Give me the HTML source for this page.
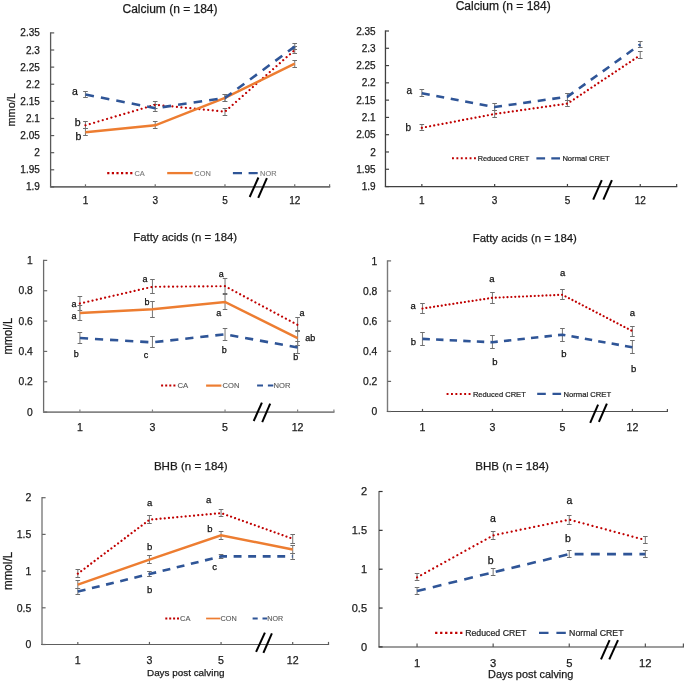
<!DOCTYPE html>
<html><head><meta charset="utf-8"><style>
html,body{margin:0;padding:0;background:#fff;}
svg{display:block;font-family:"Liberation Sans", sans-serif;will-change:transform;}
</style></head><body>
<svg width="685" height="683" viewBox="0 0 685 683">

<text x="170.00" y="12.50" font-size="12" text-anchor="middle" fill="#1a1a1a" stroke="#1a1a1a" stroke-width="0.25" >Calcium (n = 184)</text>
<line x1="50.6" y1="32.3" x2="50.6" y2="186.9" stroke="#595959" stroke-width="1.3"/>
<line x1="49.95" y1="186.9" x2="330.20000000000005" y2="186.9" stroke="#6c6c6c" stroke-width="1.9"/>
<line x1="50.6" y1="186.90" x2="54.20" y2="186.90" stroke="#595959" stroke-width="1.2"/>
<text x="39.80" y="190.47" font-size="10" text-anchor="end" fill="#1a1a1a" stroke="#1a1a1a" stroke-width="0.25" >1.9</text>
<line x1="50.6" y1="169.79" x2="54.20" y2="169.79" stroke="#595959" stroke-width="1.2"/>
<text x="39.80" y="173.36" font-size="10" text-anchor="end" fill="#1a1a1a" stroke="#1a1a1a" stroke-width="0.25" >1.95</text>
<line x1="50.6" y1="152.68" x2="54.20" y2="152.68" stroke="#595959" stroke-width="1.2"/>
<text x="39.80" y="156.25" font-size="10" text-anchor="end" fill="#1a1a1a" stroke="#1a1a1a" stroke-width="0.25" >2</text>
<line x1="50.6" y1="135.57" x2="54.20" y2="135.57" stroke="#595959" stroke-width="1.2"/>
<text x="39.80" y="139.14" font-size="10" text-anchor="end" fill="#1a1a1a" stroke="#1a1a1a" stroke-width="0.25" >2.05</text>
<line x1="50.6" y1="118.46" x2="54.20" y2="118.46" stroke="#595959" stroke-width="1.2"/>
<text x="39.80" y="122.03" font-size="10" text-anchor="end" fill="#1a1a1a" stroke="#1a1a1a" stroke-width="0.25" >2.1</text>
<line x1="50.6" y1="101.34" x2="54.20" y2="101.34" stroke="#595959" stroke-width="1.2"/>
<text x="39.80" y="104.91" font-size="10" text-anchor="end" fill="#1a1a1a" stroke="#1a1a1a" stroke-width="0.25" >2.15</text>
<line x1="50.6" y1="84.23" x2="54.20" y2="84.23" stroke="#595959" stroke-width="1.2"/>
<text x="39.80" y="87.80" font-size="10" text-anchor="end" fill="#1a1a1a" stroke="#1a1a1a" stroke-width="0.25" >2.2</text>
<line x1="50.6" y1="67.12" x2="54.20" y2="67.12" stroke="#595959" stroke-width="1.2"/>
<text x="39.80" y="70.69" font-size="10" text-anchor="end" fill="#1a1a1a" stroke="#1a1a1a" stroke-width="0.25" >2.25</text>
<line x1="50.6" y1="50.01" x2="54.20" y2="50.01" stroke="#595959" stroke-width="1.2"/>
<text x="39.80" y="53.58" font-size="10" text-anchor="end" fill="#1a1a1a" stroke="#1a1a1a" stroke-width="0.25" >2.3</text>
<line x1="50.6" y1="32.90" x2="54.20" y2="32.90" stroke="#595959" stroke-width="1.2"/>
<text x="39.80" y="36.47" font-size="10" text-anchor="end" fill="#1a1a1a" stroke="#1a1a1a" stroke-width="0.25" >2.35</text>
<line x1="85.47" y1="186.9" x2="85.47" y2="184.3" stroke="#6c6c6c" stroke-width="1.2"/>
<line x1="155.22" y1="186.9" x2="155.22" y2="184.3" stroke="#6c6c6c" stroke-width="1.2"/>
<line x1="224.97" y1="186.9" x2="224.97" y2="184.3" stroke="#6c6c6c" stroke-width="1.2"/>
<line x1="294.73" y1="186.9" x2="294.73" y2="184.3" stroke="#6c6c6c" stroke-width="1.2"/>
<line x1="329.60" y1="186.9" x2="329.60" y2="184.3" stroke="#6c6c6c" stroke-width="1.2"/>
<text x="85.47" y="204.00" font-size="10" text-anchor="middle" fill="#1a1a1a" stroke="#1a1a1a" stroke-width="0.25" >1</text>
<text x="155.22" y="204.00" font-size="10" text-anchor="middle" fill="#1a1a1a" stroke="#1a1a1a" stroke-width="0.25" >3</text>
<text x="224.97" y="204.00" font-size="10" text-anchor="middle" fill="#1a1a1a" stroke="#1a1a1a" stroke-width="0.25" >5</text>
<text x="294.73" y="204.00" font-size="10" text-anchor="middle" fill="#1a1a1a" stroke="#1a1a1a" stroke-width="0.25" >12</text>
<text x="0" y="0" font-size="11.5" text-anchor="middle" textLength="33.2" lengthAdjust="spacingAndGlyphs" fill="#1a1a1a" stroke="#1a1a1a" stroke-width="0.25" transform="translate(15.0,109.85) rotate(-90)">mmo/L</text>
<path d="M85.47 121.50V128.50" stroke="#808080" stroke-width="1.1" fill="none"/>
<path d="M83.17 121.50H87.77M83.17 128.50H87.77" stroke="#6e6e6e" stroke-width="1" fill="none"/>
<path d="M155.22 101.50V108.50" stroke="#808080" stroke-width="1.1" fill="none"/>
<path d="M152.92 101.50H157.53M152.92 108.50H157.53" stroke="#6e6e6e" stroke-width="1" fill="none"/>
<path d="M224.97 108.50V115.50" stroke="#808080" stroke-width="1.1" fill="none"/>
<path d="M222.67 108.50H227.28M222.67 115.50H227.28" stroke="#6e6e6e" stroke-width="1" fill="none"/>
<path d="M294.73 46.50V53.50" stroke="#808080" stroke-width="1.1" fill="none"/>
<path d="M292.43 46.50H297.03M292.43 53.50H297.03" stroke="#6e6e6e" stroke-width="1" fill="none"/>
<path d="M85.47 128.50V135.50" stroke="#808080" stroke-width="1.1" fill="none"/>
<path d="M83.17 128.50H87.77M83.17 135.50H87.77" stroke="#6e6e6e" stroke-width="1" fill="none"/>
<path d="M155.22 121.50V128.50" stroke="#808080" stroke-width="1.1" fill="none"/>
<path d="M152.92 121.50H157.53M152.92 128.50H157.53" stroke="#6e6e6e" stroke-width="1" fill="none"/>
<path d="M224.97 94.50V101.50" stroke="#808080" stroke-width="1.1" fill="none"/>
<path d="M222.67 94.50H227.28M222.67 101.50H227.28" stroke="#6e6e6e" stroke-width="1" fill="none"/>
<path d="M294.73 60.50V67.50" stroke="#808080" stroke-width="1.1" fill="none"/>
<path d="M292.43 60.50H297.03M292.43 67.50H297.03" stroke="#6e6e6e" stroke-width="1" fill="none"/>
<path d="M85.47 91.50V97.50" stroke="#808080" stroke-width="1.1" fill="none"/>
<path d="M83.17 91.50H87.77M83.17 97.50H87.77" stroke="#6e6e6e" stroke-width="1" fill="none"/>
<path d="M155.22 104.50V111.50" stroke="#808080" stroke-width="1.1" fill="none"/>
<path d="M152.92 104.50H157.53M152.92 111.50H157.53" stroke="#6e6e6e" stroke-width="1" fill="none"/>
<path d="M224.97 94.50V101.50" stroke="#808080" stroke-width="1.1" fill="none"/>
<path d="M222.67 94.50H227.28M222.67 101.50H227.28" stroke="#6e6e6e" stroke-width="1" fill="none"/>
<path d="M294.73 43.50V49.50" stroke="#808080" stroke-width="1.1" fill="none"/>
<path d="M292.43 43.50H297.03M292.43 49.50H297.03" stroke="#6e6e6e" stroke-width="1" fill="none"/>
<polyline points="85.47,125.30 155.22,104.77 224.97,111.61 294.73,50.01" fill="none" stroke="#C00000" stroke-width="2.2" stroke-linecap="round" stroke-dasharray="0.01 4.49"/>
<polyline points="85.47,132.14 155.22,125.30 224.97,97.92 294.73,63.70" fill="none" stroke="#ED7D31" stroke-width="2.5"/>
<polyline points="85.47,94.50 155.22,108.19 224.97,97.92 294.73,46.59" fill="none" stroke="#2F5597" stroke-width="2.6" stroke-dasharray="8.6 7.1"/>
<text x="75.00" y="94.80" font-size="10.5" text-anchor="middle" fill="#111" stroke="#111" stroke-width="0.25" >a</text>
<text x="77.70" y="125.80" font-size="10.5" text-anchor="middle" fill="#111" stroke="#111" stroke-width="0.25" >b</text>
<text x="78.40" y="139.70" font-size="10.5" text-anchor="middle" fill="#111" stroke="#111" stroke-width="0.25" >b</text>
<line x1="107.2" y1="173.1" x2="132.4" y2="173.1" stroke="#C00000" stroke-width="2.2" stroke-dasharray="2.2 2.4"/>
<text x="134.40" y="175.74" font-size="7.4" text-anchor="start" fill="#7a7a7a" stroke="#7a7a7a" stroke-width="0.12" >CA</text>
<line x1="167.2" y1="173.1" x2="192.7" y2="173.1" stroke="#ED7D31" stroke-width="2.3"/>
<text x="194.30" y="175.74" font-size="7.4" text-anchor="start" fill="#7a7a7a" stroke="#7a7a7a" stroke-width="0.12" >CON</text>
<line x1="232.9" y1="173.1" x2="257.8" y2="173.1" stroke="#2F5597" stroke-width="2.2" stroke-dasharray="9.1 6.6"/>
<text x="260.10" y="175.74" font-size="7.4" text-anchor="start" fill="#7a7a7a" stroke="#7a7a7a" stroke-width="0.12" >NOR</text>
<line x1="249.7" y1="197" x2="258.4" y2="177.5" stroke="#000" stroke-width="2"/>
<line x1="258.2" y1="197.9" x2="266.9" y2="178.2" stroke="#000" stroke-width="2"/>
<text x="503.20" y="10.00" font-size="12" text-anchor="middle" fill="#1a1a1a" stroke="#1a1a1a" stroke-width="0.25" >Calcium (n = 184)</text>
<line x1="385.45" y1="30.4" x2="385.45" y2="186.55" stroke="#404040" stroke-width="1.3"/>
<line x1="384.8" y1="186.55" x2="677.25" y2="186.55" stroke="#404040" stroke-width="1.3"/>
<line x1="385.45" y1="186.55" x2="389.05" y2="186.55" stroke="#404040" stroke-width="1.2"/>
<text x="375.70" y="190.12" font-size="10" text-anchor="end" fill="#1a1a1a" stroke="#1a1a1a" stroke-width="0.25" >1.9</text>
<line x1="385.45" y1="169.27" x2="389.05" y2="169.27" stroke="#404040" stroke-width="1.2"/>
<text x="375.70" y="172.84" font-size="10" text-anchor="end" fill="#1a1a1a" stroke="#1a1a1a" stroke-width="0.25" >1.95</text>
<line x1="385.45" y1="151.98" x2="389.05" y2="151.98" stroke="#404040" stroke-width="1.2"/>
<text x="375.70" y="155.55" font-size="10" text-anchor="end" fill="#1a1a1a" stroke="#1a1a1a" stroke-width="0.25" >2</text>
<line x1="385.45" y1="134.70" x2="389.05" y2="134.70" stroke="#404040" stroke-width="1.2"/>
<text x="375.70" y="138.27" font-size="10" text-anchor="end" fill="#1a1a1a" stroke="#1a1a1a" stroke-width="0.25" >2.05</text>
<line x1="385.45" y1="117.42" x2="389.05" y2="117.42" stroke="#404040" stroke-width="1.2"/>
<text x="375.70" y="120.99" font-size="10" text-anchor="end" fill="#1a1a1a" stroke="#1a1a1a" stroke-width="0.25" >2.1</text>
<line x1="385.45" y1="100.13" x2="389.05" y2="100.13" stroke="#404040" stroke-width="1.2"/>
<text x="375.70" y="103.70" font-size="10" text-anchor="end" fill="#1a1a1a" stroke="#1a1a1a" stroke-width="0.25" >2.15</text>
<line x1="385.45" y1="82.85" x2="389.05" y2="82.85" stroke="#404040" stroke-width="1.2"/>
<text x="375.70" y="86.42" font-size="10" text-anchor="end" fill="#1a1a1a" stroke="#1a1a1a" stroke-width="0.25" >2.2</text>
<line x1="385.45" y1="65.57" x2="389.05" y2="65.57" stroke="#404040" stroke-width="1.2"/>
<text x="375.70" y="69.14" font-size="10" text-anchor="end" fill="#1a1a1a" stroke="#1a1a1a" stroke-width="0.25" >2.25</text>
<line x1="385.45" y1="48.28" x2="389.05" y2="48.28" stroke="#404040" stroke-width="1.2"/>
<text x="375.70" y="51.85" font-size="10" text-anchor="end" fill="#1a1a1a" stroke="#1a1a1a" stroke-width="0.25" >2.3</text>
<line x1="385.45" y1="31.00" x2="389.05" y2="31.00" stroke="#404040" stroke-width="1.2"/>
<text x="375.70" y="34.57" font-size="10" text-anchor="end" fill="#1a1a1a" stroke="#1a1a1a" stroke-width="0.25" >2.35</text>
<line x1="421.85" y1="186.55" x2="421.85" y2="183.95000000000002" stroke="#404040" stroke-width="1.2"/>
<line x1="494.65" y1="186.55" x2="494.65" y2="183.95000000000002" stroke="#404040" stroke-width="1.2"/>
<line x1="567.45" y1="186.55" x2="567.45" y2="183.95000000000002" stroke="#404040" stroke-width="1.2"/>
<line x1="640.25" y1="186.55" x2="640.25" y2="183.95000000000002" stroke="#404040" stroke-width="1.2"/>
<line x1="676.65" y1="186.55" x2="676.65" y2="183.95000000000002" stroke="#404040" stroke-width="1.2"/>
<text x="421.85" y="203.90" font-size="10" text-anchor="middle" fill="#1a1a1a" stroke="#1a1a1a" stroke-width="0.25" >1</text>
<text x="494.65" y="203.90" font-size="10" text-anchor="middle" fill="#1a1a1a" stroke="#1a1a1a" stroke-width="0.25" >3</text>
<text x="567.45" y="203.90" font-size="10" text-anchor="middle" fill="#1a1a1a" stroke="#1a1a1a" stroke-width="0.25" >5</text>
<text x="640.25" y="203.90" font-size="10" text-anchor="middle" fill="#1a1a1a" stroke="#1a1a1a" stroke-width="0.25" >12</text>
<path d="M421.85 124.50V130.50" stroke="#808080" stroke-width="1.1" fill="none"/>
<path d="M419.55 124.50H424.15M419.55 130.50H424.15" stroke="#6e6e6e" stroke-width="1" fill="none"/>
<path d="M494.65 110.50V117.50" stroke="#808080" stroke-width="1.1" fill="none"/>
<path d="M492.35 110.50H496.95M492.35 117.50H496.95" stroke="#6e6e6e" stroke-width="1" fill="none"/>
<path d="M567.45 100.50V106.50" stroke="#808080" stroke-width="1.1" fill="none"/>
<path d="M565.15 100.50H569.75M565.15 106.50H569.75" stroke="#6e6e6e" stroke-width="1" fill="none"/>
<path d="M640.25 51.50V58.50" stroke="#808080" stroke-width="1.1" fill="none"/>
<path d="M637.95 51.50H642.55M637.95 58.50H642.55" stroke="#6e6e6e" stroke-width="1" fill="none"/>
<path d="M421.85 89.50V96.50" stroke="#808080" stroke-width="1.1" fill="none"/>
<path d="M419.55 89.50H424.15M419.55 96.50H424.15" stroke="#6e6e6e" stroke-width="1" fill="none"/>
<path d="M494.65 103.50V110.50" stroke="#808080" stroke-width="1.1" fill="none"/>
<path d="M492.35 103.50H496.95M492.35 110.50H496.95" stroke="#6e6e6e" stroke-width="1" fill="none"/>
<path d="M567.45 93.50V100.50" stroke="#808080" stroke-width="1.1" fill="none"/>
<path d="M565.15 93.50H569.75M565.15 100.50H569.75" stroke="#6e6e6e" stroke-width="1" fill="none"/>
<path d="M640.25 41.50V47.50" stroke="#808080" stroke-width="1.1" fill="none"/>
<path d="M637.95 41.50H642.55M637.95 47.50H642.55" stroke="#6e6e6e" stroke-width="1" fill="none"/>
<polyline points="421.85,127.79 494.65,113.96 567.45,103.59 640.25,55.20" fill="none" stroke="#C00000" stroke-width="2.2" stroke-linecap="round" stroke-dasharray="0.01 4.19"/>
<polyline points="421.85,93.22 494.65,107.05 567.45,96.68 640.25,44.48" fill="none" stroke="#2F5597" stroke-width="2.6" stroke-dasharray="8.0 6.7"/>
<text x="409.20" y="93.50" font-size="10" text-anchor="middle" fill="#111" stroke="#111" stroke-width="0.25" >a</text>
<text x="408.30" y="130.90" font-size="10" text-anchor="middle" fill="#111" stroke="#111" stroke-width="0.25" >b</text>
<line x1="452" y1="158.3" x2="475.9" y2="158.3" stroke="#C00000" stroke-width="2.0" stroke-dasharray="1.9 2.5"/>
<text x="477.70" y="160.92" font-size="7.35" text-anchor="start" fill="#262626" stroke="#262626" stroke-width="0.22" >Reduced CRET</text>
<line x1="536.4" y1="158.3" x2="560.1" y2="158.3" stroke="#2F5597" stroke-width="2.2" stroke-dasharray="8.7 6.2"/>
<text x="562.40" y="161.01" font-size="7.6" text-anchor="start" fill="#262626" stroke="#262626" stroke-width="0.22" >Normal CRET</text>
<line x1="593.2" y1="199.6" x2="601.8" y2="180.2" stroke="#000" stroke-width="2"/>
<line x1="603.4" y1="199.6" x2="611.9" y2="180.2" stroke="#000" stroke-width="2"/>
<text x="185.20" y="240.60" font-size="11.35" text-anchor="middle" fill="#1a1a1a" stroke="#1a1a1a" stroke-width="0.25" >Fatty acids (n = 184)</text>
<line x1="43.6" y1="259.79999999999995" x2="43.6" y2="412.1" stroke="#6b6b6b" stroke-width="1.3"/>
<line x1="42.95" y1="412.1" x2="334.5" y2="412.1" stroke="#858585" stroke-width="1.7"/>
<line x1="43.6" y1="412.10" x2="47.20" y2="412.10" stroke="#6b6b6b" stroke-width="1.2"/>
<text x="32.80" y="415.78" font-size="10.3" text-anchor="end" fill="#1a1a1a" stroke="#1a1a1a" stroke-width="0.25" >0</text>
<line x1="43.6" y1="381.76" x2="47.20" y2="381.76" stroke="#6b6b6b" stroke-width="1.2"/>
<text x="32.80" y="385.44" font-size="10.3" text-anchor="end" fill="#1a1a1a" stroke="#1a1a1a" stroke-width="0.25" >0.2</text>
<line x1="43.6" y1="351.42" x2="47.20" y2="351.42" stroke="#6b6b6b" stroke-width="1.2"/>
<text x="32.80" y="355.10" font-size="10.3" text-anchor="end" fill="#1a1a1a" stroke="#1a1a1a" stroke-width="0.25" >0.4</text>
<line x1="43.6" y1="321.08" x2="47.20" y2="321.08" stroke="#6b6b6b" stroke-width="1.2"/>
<text x="32.80" y="324.76" font-size="10.3" text-anchor="end" fill="#1a1a1a" stroke="#1a1a1a" stroke-width="0.25" >0.6</text>
<line x1="43.6" y1="290.74" x2="47.20" y2="290.74" stroke="#6b6b6b" stroke-width="1.2"/>
<text x="32.80" y="294.42" font-size="10.3" text-anchor="end" fill="#1a1a1a" stroke="#1a1a1a" stroke-width="0.25" >0.8</text>
<line x1="43.6" y1="260.40" x2="47.20" y2="260.40" stroke="#6b6b6b" stroke-width="1.2"/>
<text x="32.80" y="264.08" font-size="10.3" text-anchor="end" fill="#1a1a1a" stroke="#1a1a1a" stroke-width="0.25" >1</text>
<line x1="79.89" y1="412.1" x2="79.89" y2="409.5" stroke="#858585" stroke-width="1.2"/>
<line x1="152.46" y1="412.1" x2="152.46" y2="409.5" stroke="#858585" stroke-width="1.2"/>
<line x1="225.04" y1="412.1" x2="225.04" y2="409.5" stroke="#858585" stroke-width="1.2"/>
<line x1="297.61" y1="412.1" x2="297.61" y2="409.5" stroke="#858585" stroke-width="1.2"/>
<line x1="333.90" y1="412.1" x2="333.90" y2="409.5" stroke="#858585" stroke-width="1.2"/>
<text x="79.89" y="431.00" font-size="10.6" text-anchor="middle" fill="#1a1a1a" stroke="#1a1a1a" stroke-width="0.25" >1</text>
<text x="152.46" y="431.00" font-size="10.6" text-anchor="middle" fill="#1a1a1a" stroke="#1a1a1a" stroke-width="0.25" >3</text>
<text x="225.04" y="431.00" font-size="10.6" text-anchor="middle" fill="#1a1a1a" stroke="#1a1a1a" stroke-width="0.25" >5</text>
<text x="297.61" y="431.00" font-size="10.6" text-anchor="middle" fill="#1a1a1a" stroke="#1a1a1a" stroke-width="0.25" >12</text>
<text x="0" y="0" font-size="12.3" text-anchor="middle" textLength="36.8" lengthAdjust="spacingAndGlyphs" fill="#1a1a1a" stroke="#1a1a1a" stroke-width="0.25" transform="translate(12.3,336.2) rotate(-90)">mmol/L</text>
<path d="M79.89 296.50V310.50" stroke="#808080" stroke-width="1.1" fill="none"/>
<path d="M77.59 296.50H82.19M77.59 310.50H82.19" stroke="#6e6e6e" stroke-width="1" fill="none"/>
<path d="M152.46 279.50V293.50" stroke="#808080" stroke-width="1.1" fill="none"/>
<path d="M150.16 279.50H154.76M150.16 293.50H154.76" stroke="#6e6e6e" stroke-width="1" fill="none"/>
<path d="M225.04 278.50V293.50" stroke="#808080" stroke-width="1.1" fill="none"/>
<path d="M222.74 278.50H227.34M222.74 293.50H227.34" stroke="#6e6e6e" stroke-width="1" fill="none"/>
<path d="M297.61 317.50V331.50" stroke="#808080" stroke-width="1.1" fill="none"/>
<path d="M295.31 317.50H299.91M295.31 331.50H299.91" stroke="#6e6e6e" stroke-width="1" fill="none"/>
<path d="M79.89 305.50V320.50" stroke="#808080" stroke-width="1.1" fill="none"/>
<path d="M77.59 305.50H82.19M77.59 320.50H82.19" stroke="#6e6e6e" stroke-width="1" fill="none"/>
<path d="M152.46 301.50V317.50" stroke="#808080" stroke-width="1.1" fill="none"/>
<path d="M150.16 301.50H154.76M150.16 317.50H154.76" stroke="#6e6e6e" stroke-width="1" fill="none"/>
<path d="M225.04 294.50V309.50" stroke="#808080" stroke-width="1.1" fill="none"/>
<path d="M222.74 294.50H227.34M222.74 309.50H227.34" stroke="#6e6e6e" stroke-width="1" fill="none"/>
<path d="M297.61 330.50V345.50" stroke="#808080" stroke-width="1.1" fill="none"/>
<path d="M295.31 330.50H299.91M295.31 345.50H299.91" stroke="#6e6e6e" stroke-width="1" fill="none"/>
<path d="M79.89 332.50V343.50" stroke="#808080" stroke-width="1.1" fill="none"/>
<path d="M77.59 332.50H82.19M77.59 343.50H82.19" stroke="#6e6e6e" stroke-width="1" fill="none"/>
<path d="M152.46 336.50V347.50" stroke="#808080" stroke-width="1.1" fill="none"/>
<path d="M150.16 336.50H154.76M150.16 347.50H154.76" stroke="#6e6e6e" stroke-width="1" fill="none"/>
<path d="M225.04 328.50V340.50" stroke="#808080" stroke-width="1.1" fill="none"/>
<path d="M222.74 328.50H227.34M222.74 340.50H227.34" stroke="#6e6e6e" stroke-width="1" fill="none"/>
<path d="M297.61 341.50V353.50" stroke="#808080" stroke-width="1.1" fill="none"/>
<path d="M295.31 341.50H299.91M295.31 353.50H299.91" stroke="#6e6e6e" stroke-width="1" fill="none"/>
<polyline points="79.89,303.48 152.46,286.80 225.04,286.19 297.61,324.87" fill="none" stroke="#C00000" stroke-width="2.2" stroke-linecap="round" stroke-dasharray="0.01 4.31"/>
<polyline points="79.89,313.04 152.46,309.25 225.04,301.97 297.61,338.07" fill="none" stroke="#ED7D31" stroke-width="2.5"/>
<polyline points="79.89,338.07 152.46,342.32 225.04,334.28 297.61,347.48" fill="none" stroke="#2F5597" stroke-width="2.6" stroke-dasharray="8.2 6.9"/>
<text x="74.00" y="306.60" font-size="9" text-anchor="middle" fill="#111" stroke="#111" stroke-width="0.25" >a</text>
<text x="74.00" y="318.50" font-size="9" text-anchor="middle" fill="#111" stroke="#111" stroke-width="0.25" >a</text>
<text x="76.20" y="356.50" font-size="9" text-anchor="middle" fill="#111" stroke="#111" stroke-width="0.25" >b</text>
<text x="145.10" y="281.50" font-size="9" text-anchor="middle" fill="#111" stroke="#111" stroke-width="0.25" >a</text>
<text x="147.10" y="304.60" font-size="9" text-anchor="middle" fill="#111" stroke="#111" stroke-width="0.25" >b</text>
<text x="146.00" y="357.70" font-size="9" text-anchor="middle" fill="#111" stroke="#111" stroke-width="0.25" >c</text>
<text x="221.30" y="276.60" font-size="9" text-anchor="middle" fill="#111" stroke="#111" stroke-width="0.25" >a</text>
<text x="218.80" y="315.80" font-size="9" text-anchor="middle" fill="#111" stroke="#111" stroke-width="0.25" >a</text>
<text x="224.30" y="352.60" font-size="9" text-anchor="middle" fill="#111" stroke="#111" stroke-width="0.25" >b</text>
<text x="302.00" y="316.20" font-size="9" text-anchor="middle" fill="#111" stroke="#111" stroke-width="0.25" >a</text>
<text x="310.30" y="340.80" font-size="9" text-anchor="middle" fill="#111" stroke="#111" stroke-width="0.25" >ab</text>
<text x="295.80" y="360.40" font-size="9" text-anchor="middle" fill="#111" stroke="#111" stroke-width="0.25" >b</text>
<line x1="161.1" y1="385.6" x2="175.4" y2="385.6" stroke="#C00000" stroke-width="2.0" stroke-dasharray="2 2.1"/>
<text x="177.40" y="388.38" font-size="7.8" text-anchor="start" fill="#595959" stroke="#595959" stroke-width="0.12" >CA</text>
<line x1="206.1" y1="385.6" x2="221.4" y2="385.6" stroke="#ED7D31" stroke-width="2.2"/>
<text x="222.50" y="388.31" font-size="7.6" text-anchor="start" fill="#595959" stroke="#595959" stroke-width="0.12" >CON</text>
<line x1="257.1" y1="385.6" x2="273.3" y2="385.6" stroke="#2F5597" stroke-width="2.0" stroke-dasharray="5.9 4.9"/>
<text x="273.60" y="388.31" font-size="7.6" text-anchor="start" fill="#595959" stroke="#595959" stroke-width="0.12" >NOR</text>
<line x1="253.7" y1="421" x2="261.9" y2="402.6" stroke="#000" stroke-width="2"/>
<line x1="262.2" y1="422.1" x2="270.2" y2="403.7" stroke="#000" stroke-width="2"/>
<text x="524.80" y="241.70" font-size="11.4" text-anchor="middle" fill="#1a1a1a" stroke="#1a1a1a" stroke-width="0.25" >Fatty acids (n = 184)</text>
<line x1="387.5" y1="260.29999999999995" x2="387.5" y2="411.5" stroke="#7a7a7a" stroke-width="1.4"/>
<line x1="386.8" y1="411.5" x2="668.0" y2="411.5" stroke="#505050" stroke-width="1.2"/>
<line x1="387.5" y1="411.50" x2="391.10" y2="411.50" stroke="#666" stroke-width="1.2"/>
<text x="377.30" y="415.18" font-size="10.3" text-anchor="end" fill="#1a1a1a" stroke="#1a1a1a" stroke-width="0.25" >0</text>
<line x1="387.5" y1="381.38" x2="391.10" y2="381.38" stroke="#666" stroke-width="1.2"/>
<text x="377.30" y="385.06" font-size="10.3" text-anchor="end" fill="#1a1a1a" stroke="#1a1a1a" stroke-width="0.25" >0.2</text>
<line x1="387.5" y1="351.26" x2="391.10" y2="351.26" stroke="#666" stroke-width="1.2"/>
<text x="377.30" y="354.94" font-size="10.3" text-anchor="end" fill="#1a1a1a" stroke="#1a1a1a" stroke-width="0.25" >0.4</text>
<line x1="387.5" y1="321.14" x2="391.10" y2="321.14" stroke="#666" stroke-width="1.2"/>
<text x="377.30" y="324.82" font-size="10.3" text-anchor="end" fill="#1a1a1a" stroke="#1a1a1a" stroke-width="0.25" >0.6</text>
<line x1="387.5" y1="291.02" x2="391.10" y2="291.02" stroke="#666" stroke-width="1.2"/>
<text x="377.30" y="294.70" font-size="10.3" text-anchor="end" fill="#1a1a1a" stroke="#1a1a1a" stroke-width="0.25" >0.8</text>
<line x1="387.5" y1="260.90" x2="391.10" y2="260.90" stroke="#666" stroke-width="1.2"/>
<text x="377.30" y="264.58" font-size="10.3" text-anchor="end" fill="#1a1a1a" stroke="#1a1a1a" stroke-width="0.25" >1</text>
<line x1="422.49" y1="411.5" x2="422.49" y2="408.9" stroke="#505050" stroke-width="1.2"/>
<line x1="492.46" y1="411.5" x2="492.46" y2="408.9" stroke="#505050" stroke-width="1.2"/>
<line x1="562.44" y1="411.5" x2="562.44" y2="408.9" stroke="#505050" stroke-width="1.2"/>
<line x1="632.41" y1="411.5" x2="632.41" y2="408.9" stroke="#505050" stroke-width="1.2"/>
<line x1="667.40" y1="411.5" x2="667.40" y2="408.9" stroke="#505050" stroke-width="1.2"/>
<text x="422.49" y="431.00" font-size="10.6" text-anchor="middle" fill="#1a1a1a" stroke="#1a1a1a" stroke-width="0.25" >1</text>
<text x="492.46" y="431.00" font-size="10.6" text-anchor="middle" fill="#1a1a1a" stroke="#1a1a1a" stroke-width="0.25" >3</text>
<text x="562.44" y="431.00" font-size="10.6" text-anchor="middle" fill="#1a1a1a" stroke="#1a1a1a" stroke-width="0.25" >5</text>
<text x="632.41" y="431.00" font-size="10.6" text-anchor="middle" fill="#1a1a1a" stroke="#1a1a1a" stroke-width="0.25" >12</text>
<path d="M422.49 303.50V313.50" stroke="#808080" stroke-width="1.1" fill="none"/>
<path d="M420.19 303.50H424.79M420.19 313.50H424.79" stroke="#6e6e6e" stroke-width="1" fill="none"/>
<path d="M492.46 292.50V303.50" stroke="#808080" stroke-width="1.1" fill="none"/>
<path d="M490.16 292.50H494.76M490.16 303.50H494.76" stroke="#6e6e6e" stroke-width="1" fill="none"/>
<path d="M562.44 289.50V299.50" stroke="#808080" stroke-width="1.1" fill="none"/>
<path d="M560.14 289.50H564.74M560.14 299.50H564.74" stroke="#6e6e6e" stroke-width="1" fill="none"/>
<path d="M632.41 326.50V336.50" stroke="#808080" stroke-width="1.1" fill="none"/>
<path d="M630.11 326.50H634.71M630.11 336.50H634.71" stroke="#6e6e6e" stroke-width="1" fill="none"/>
<path d="M422.49 332.50V345.50" stroke="#808080" stroke-width="1.1" fill="none"/>
<path d="M420.19 332.50H424.79M420.19 345.50H424.79" stroke="#6e6e6e" stroke-width="1" fill="none"/>
<path d="M492.46 335.50V348.50" stroke="#808080" stroke-width="1.1" fill="none"/>
<path d="M490.16 335.50H494.76M490.16 348.50H494.76" stroke="#6e6e6e" stroke-width="1" fill="none"/>
<path d="M562.44 328.50V341.50" stroke="#808080" stroke-width="1.1" fill="none"/>
<path d="M560.14 328.50H564.74M560.14 341.50H564.74" stroke="#6e6e6e" stroke-width="1" fill="none"/>
<path d="M632.41 340.50V353.50" stroke="#808080" stroke-width="1.1" fill="none"/>
<path d="M630.11 340.50H634.71M630.11 353.50H634.71" stroke="#6e6e6e" stroke-width="1" fill="none"/>
<polyline points="422.49,308.49 492.46,297.80 562.44,294.78 632.41,331.08" fill="none" stroke="#C00000" stroke-width="2.2" stroke-linecap="round" stroke-dasharray="0.01 3.89"/>
<polyline points="422.49,338.91 492.46,342.22 562.44,334.69 632.41,347.34" fill="none" stroke="#2F5597" stroke-width="2.6" stroke-dasharray="7.4 6.2"/>
<text x="413.20" y="309.00" font-size="9.5" text-anchor="middle" fill="#111" stroke="#111" stroke-width="0.25" >a</text>
<text x="413.30" y="344.50" font-size="9.5" text-anchor="middle" fill="#111" stroke="#111" stroke-width="0.25" >b</text>
<text x="491.90" y="282.40" font-size="9.5" text-anchor="middle" fill="#111" stroke="#111" stroke-width="0.25" >a</text>
<text x="494.80" y="365.00" font-size="9.5" text-anchor="middle" fill="#111" stroke="#111" stroke-width="0.25" >b</text>
<text x="562.60" y="276.00" font-size="9.5" text-anchor="middle" fill="#111" stroke="#111" stroke-width="0.25" >a</text>
<text x="563.80" y="357.00" font-size="9.5" text-anchor="middle" fill="#111" stroke="#111" stroke-width="0.25" >b</text>
<text x="632.40" y="316.00" font-size="9.5" text-anchor="middle" fill="#111" stroke="#111" stroke-width="0.25" >a</text>
<text x="633.60" y="372.20" font-size="9.5" text-anchor="middle" fill="#111" stroke="#111" stroke-width="0.25" >b</text>
<line x1="446.6" y1="393.9" x2="470.5" y2="393.9" stroke="#C00000" stroke-width="2.0" stroke-dasharray="1.9 2.5"/>
<text x="472.90" y="396.60" font-size="7.55" text-anchor="start" fill="#262626" stroke="#262626" stroke-width="0.22" >Reduced CRET</text>
<line x1="537.2" y1="393.9" x2="561.1" y2="393.9" stroke="#2F5597" stroke-width="2.2" stroke-dasharray="8.6 6.7"/>
<text x="563.50" y="396.63" font-size="7.65" text-anchor="start" fill="#262626" stroke="#262626" stroke-width="0.22" >Normal CRET</text>
<line x1="590.2" y1="422.8" x2="598.1" y2="404.6" stroke="#000" stroke-width="2"/>
<line x1="598.9" y1="421.9" x2="606.9" y2="403.7" stroke="#000" stroke-width="2"/>
<text x="190.80" y="469.60" font-size="11.6" text-anchor="middle" fill="#1a1a1a" stroke="#1a1a1a" stroke-width="0.25" >BHB (n = 184)</text>
<line x1="42" y1="497.09999999999997" x2="42" y2="644.5" stroke="#999999" stroke-width="1.8"/>
<line x1="41.1" y1="644.5" x2="329.1" y2="644.5" stroke="#5e5e5e" stroke-width="1.2"/>
<line x1="42" y1="644.50" x2="45.60" y2="644.50" stroke="#666" stroke-width="1.2"/>
<text x="31.30" y="648.25" font-size="10.5" text-anchor="end" fill="#1a1a1a" stroke="#1a1a1a" stroke-width="0.25" >0</text>
<line x1="42" y1="607.80" x2="45.60" y2="607.80" stroke="#666" stroke-width="1.2"/>
<text x="31.30" y="611.55" font-size="10.5" text-anchor="end" fill="#1a1a1a" stroke="#1a1a1a" stroke-width="0.25" >0.5</text>
<line x1="42" y1="571.10" x2="45.60" y2="571.10" stroke="#666" stroke-width="1.2"/>
<text x="31.30" y="574.85" font-size="10.5" text-anchor="end" fill="#1a1a1a" stroke="#1a1a1a" stroke-width="0.25" >1</text>
<line x1="42" y1="534.40" x2="45.60" y2="534.40" stroke="#666" stroke-width="1.2"/>
<text x="31.30" y="538.15" font-size="10.5" text-anchor="end" fill="#1a1a1a" stroke="#1a1a1a" stroke-width="0.25" >1.5</text>
<line x1="42" y1="497.70" x2="45.60" y2="497.70" stroke="#666" stroke-width="1.2"/>
<text x="31.30" y="501.45" font-size="10.5" text-anchor="end" fill="#1a1a1a" stroke="#1a1a1a" stroke-width="0.25" >2</text>
<line x1="77.81" y1="644.5" x2="77.81" y2="641.9" stroke="#5e5e5e" stroke-width="1.2"/>
<line x1="149.44" y1="644.5" x2="149.44" y2="641.9" stroke="#5e5e5e" stroke-width="1.2"/>
<line x1="221.06" y1="644.5" x2="221.06" y2="641.9" stroke="#5e5e5e" stroke-width="1.2"/>
<line x1="292.69" y1="644.5" x2="292.69" y2="641.9" stroke="#5e5e5e" stroke-width="1.2"/>
<line x1="328.50" y1="644.5" x2="328.50" y2="641.9" stroke="#5e5e5e" stroke-width="1.2"/>
<text x="77.81" y="664.00" font-size="10.6" text-anchor="middle" fill="#1a1a1a" stroke="#1a1a1a" stroke-width="0.25" >1</text>
<text x="149.44" y="664.00" font-size="10.6" text-anchor="middle" fill="#1a1a1a" stroke="#1a1a1a" stroke-width="0.25" >3</text>
<text x="221.06" y="664.00" font-size="10.6" text-anchor="middle" fill="#1a1a1a" stroke="#1a1a1a" stroke-width="0.25" >5</text>
<text x="292.69" y="664.00" font-size="10.6" text-anchor="middle" fill="#1a1a1a" stroke="#1a1a1a" stroke-width="0.25" >12</text>
<text x="0" y="0" font-size="12" text-anchor="middle" textLength="38.2" lengthAdjust="spacingAndGlyphs" fill="#1a1a1a" stroke="#1a1a1a" stroke-width="0.25" transform="translate(12.2,570.95) rotate(-90)">mmol/L</text>
<text x="185.70" y="675.80" font-size="9.9" text-anchor="middle" fill="#1a1a1a" stroke="#1a1a1a" stroke-width="0.25" >Days post calving</text>
<path d="M77.81 569.50V577.50" stroke="#808080" stroke-width="1.1" fill="none"/>
<path d="M75.51 569.50H80.11M75.51 577.50H80.11" stroke="#6e6e6e" stroke-width="1" fill="none"/>
<path d="M149.44 515.50V523.50" stroke="#808080" stroke-width="1.1" fill="none"/>
<path d="M147.14 515.50H151.74M147.14 523.50H151.74" stroke="#6e6e6e" stroke-width="1" fill="none"/>
<path d="M221.06 509.50V516.50" stroke="#808080" stroke-width="1.1" fill="none"/>
<path d="M218.76 509.50H223.36M218.76 516.50H223.36" stroke="#6e6e6e" stroke-width="1" fill="none"/>
<path d="M292.69 534.50V543.50" stroke="#808080" stroke-width="1.1" fill="none"/>
<path d="M290.39 534.50H294.99M290.39 543.50H294.99" stroke="#6e6e6e" stroke-width="1" fill="none"/>
<path d="M77.81 580.50V588.50" stroke="#808080" stroke-width="1.1" fill="none"/>
<path d="M75.51 580.50H80.11M75.51 588.50H80.11" stroke="#6e6e6e" stroke-width="1" fill="none"/>
<path d="M149.44 555.50V563.50" stroke="#808080" stroke-width="1.1" fill="none"/>
<path d="M147.14 555.50H151.74M147.14 563.50H151.74" stroke="#6e6e6e" stroke-width="1" fill="none"/>
<path d="M221.06 531.50V539.50" stroke="#808080" stroke-width="1.1" fill="none"/>
<path d="M218.76 531.50H223.36M218.76 539.50H223.36" stroke="#6e6e6e" stroke-width="1" fill="none"/>
<path d="M292.69 545.50V553.50" stroke="#808080" stroke-width="1.1" fill="none"/>
<path d="M290.39 545.50H294.99M290.39 553.50H294.99" stroke="#6e6e6e" stroke-width="1" fill="none"/>
<path d="M77.81 588.50V594.50" stroke="#808080" stroke-width="1.1" fill="none"/>
<path d="M75.51 588.50H80.11M75.51 594.50H80.11" stroke="#6e6e6e" stroke-width="1" fill="none"/>
<path d="M149.44 571.50V576.50" stroke="#808080" stroke-width="1.1" fill="none"/>
<path d="M147.14 571.50H151.74M147.14 576.50H151.74" stroke="#6e6e6e" stroke-width="1" fill="none"/>
<path d="M221.06 554.50V558.50" stroke="#808080" stroke-width="1.1" fill="none"/>
<path d="M218.76 554.50H223.36M218.76 558.50H223.36" stroke="#6e6e6e" stroke-width="1" fill="none"/>
<path d="M292.69 553.50V559.50" stroke="#808080" stroke-width="1.1" fill="none"/>
<path d="M290.39 553.50H294.99M290.39 559.50H294.99" stroke="#6e6e6e" stroke-width="1" fill="none"/>
<polyline points="77.81,573.60 149.44,519.72 221.06,513.11 292.69,538.80" fill="none" stroke="#C00000" stroke-width="2.2" stroke-linecap="round" stroke-dasharray="0.01 4.19"/>
<polyline points="77.81,584.68 149.44,559.65 221.06,535.35 292.69,549.45" fill="none" stroke="#ED7D31" stroke-width="2.5"/>
<polyline points="77.81,591.51 149.44,574.04 221.06,556.42 292.69,556.42" fill="none" stroke="#2F5597" stroke-width="2.6" stroke-dasharray="7.9 6.65"/>
<text x="149.70" y="506.00" font-size="9.5" text-anchor="middle" fill="#111" stroke="#111" stroke-width="0.25" >a</text>
<text x="149.70" y="549.50" font-size="9.5" text-anchor="middle" fill="#111" stroke="#111" stroke-width="0.25" >b</text>
<text x="149.70" y="593.00" font-size="9.5" text-anchor="middle" fill="#111" stroke="#111" stroke-width="0.25" >b</text>
<text x="208.60" y="503.30" font-size="9.5" text-anchor="middle" fill="#111" stroke="#111" stroke-width="0.25" >a</text>
<text x="209.90" y="531.60" font-size="9.5" text-anchor="middle" fill="#111" stroke="#111" stroke-width="0.25" >b</text>
<text x="214.50" y="570.30" font-size="9.5" text-anchor="middle" fill="#111" stroke="#111" stroke-width="0.25" >c</text>
<line x1="165.3" y1="618.5" x2="179" y2="618.5" stroke="#C00000" stroke-width="2.0" stroke-dasharray="2 1.9"/>
<text x="180.00" y="621.18" font-size="7.5" text-anchor="start" fill="#595959" stroke="#595959" stroke-width="0.12" >CA</text>
<line x1="206.1" y1="618.5" x2="220.3" y2="618.5" stroke="#ED7D31" stroke-width="1.7"/>
<text x="220.60" y="621.11" font-size="7.3" text-anchor="start" fill="#595959" stroke="#595959" stroke-width="0.12" >CON</text>
<line x1="252.6" y1="618.5" x2="267.2" y2="618.5" stroke="#2F5597" stroke-width="2.0" stroke-dasharray="5.1 4.8"/>
<text x="267.30" y="621.03" font-size="7.1" text-anchor="start" fill="#595959" stroke="#595959" stroke-width="0.12" >NOR</text>
<line x1="256.1" y1="651.9" x2="264.9" y2="632.6" stroke="#000" stroke-width="2"/>
<line x1="263.4" y1="652.8" x2="271.9" y2="633.3" stroke="#000" stroke-width="2"/>
<text x="512.10" y="470.00" font-size="11.6" text-anchor="middle" fill="#1a1a1a" stroke="#1a1a1a" stroke-width="0.25" >BHB (n = 184)</text>
<line x1="379" y1="490.9" x2="379" y2="646.9" stroke="#858585" stroke-width="1.6"/>
<line x1="378.2" y1="646.9" x2="684.0" y2="646.9" stroke="#7d7d7d" stroke-width="1.5"/>
<line x1="379" y1="646.90" x2="382.60" y2="646.90" stroke="#333" stroke-width="1.2"/>
<text x="367.00" y="650.83" font-size="11" text-anchor="end" fill="#1a1a1a" stroke="#1a1a1a" stroke-width="0.25" >0</text>
<line x1="379" y1="608.05" x2="382.60" y2="608.05" stroke="#333" stroke-width="1.2"/>
<text x="367.00" y="611.98" font-size="11" text-anchor="end" fill="#1a1a1a" stroke="#1a1a1a" stroke-width="0.25" >0.5</text>
<line x1="379" y1="569.20" x2="382.60" y2="569.20" stroke="#333" stroke-width="1.2"/>
<text x="367.00" y="573.13" font-size="11" text-anchor="end" fill="#1a1a1a" stroke="#1a1a1a" stroke-width="0.25" >1</text>
<line x1="379" y1="530.35" x2="382.60" y2="530.35" stroke="#333" stroke-width="1.2"/>
<text x="367.00" y="534.28" font-size="11" text-anchor="end" fill="#1a1a1a" stroke="#1a1a1a" stroke-width="0.25" >1.5</text>
<line x1="379" y1="491.50" x2="382.60" y2="491.50" stroke="#333" stroke-width="1.2"/>
<text x="367.00" y="495.43" font-size="11" text-anchor="end" fill="#1a1a1a" stroke="#1a1a1a" stroke-width="0.25" >2</text>
<line x1="417.05" y1="646.9" x2="417.05" y2="643.5" stroke="#555" stroke-width="1.2"/>
<line x1="493.15" y1="646.9" x2="493.15" y2="643.5" stroke="#555" stroke-width="1.2"/>
<line x1="569.25" y1="646.9" x2="569.25" y2="643.5" stroke="#555" stroke-width="1.2"/>
<line x1="645.35" y1="646.9" x2="645.35" y2="643.5" stroke="#555" stroke-width="1.2"/>
<line x1="683.40" y1="646.9" x2="683.40" y2="643.5" stroke="#555" stroke-width="1.2"/>
<text x="417.05" y="667.20" font-size="11.2" text-anchor="middle" fill="#1a1a1a" stroke="#1a1a1a" stroke-width="0.25" >1</text>
<text x="493.15" y="667.20" font-size="11.2" text-anchor="middle" fill="#1a1a1a" stroke="#1a1a1a" stroke-width="0.25" >3</text>
<text x="569.25" y="667.20" font-size="11.2" text-anchor="middle" fill="#1a1a1a" stroke="#1a1a1a" stroke-width="0.25" >5</text>
<text x="645.35" y="667.20" font-size="11.2" text-anchor="middle" fill="#1a1a1a" stroke="#1a1a1a" stroke-width="0.25" >12</text>
<text x="530.70" y="677.80" font-size="10.9" text-anchor="middle" fill="#1a1a1a" stroke="#1a1a1a" stroke-width="0.25" >Days post calving</text>
<path d="M417.05 573.50V580.50" stroke="#808080" stroke-width="1.1" fill="none"/>
<path d="M414.75 573.50H419.35M414.75 580.50H419.35" stroke="#6e6e6e" stroke-width="1" fill="none"/>
<path d="M493.15 531.50V539.50" stroke="#808080" stroke-width="1.1" fill="none"/>
<path d="M490.85 531.50H495.45M490.85 539.50H495.45" stroke="#6e6e6e" stroke-width="1" fill="none"/>
<path d="M569.25 515.50V524.50" stroke="#808080" stroke-width="1.1" fill="none"/>
<path d="M566.95 515.50H571.55M566.95 524.50H571.55" stroke="#6e6e6e" stroke-width="1" fill="none"/>
<path d="M645.35 536.50V543.50" stroke="#808080" stroke-width="1.1" fill="none"/>
<path d="M643.05 536.50H647.65M643.05 543.50H647.65" stroke="#6e6e6e" stroke-width="1" fill="none"/>
<path d="M417.05 587.50V594.50" stroke="#808080" stroke-width="1.1" fill="none"/>
<path d="M414.75 587.50H419.35M414.75 594.50H419.35" stroke="#6e6e6e" stroke-width="1" fill="none"/>
<path d="M493.15 568.50V575.50" stroke="#808080" stroke-width="1.1" fill="none"/>
<path d="M490.85 568.50H495.45M490.85 575.50H495.45" stroke="#6e6e6e" stroke-width="1" fill="none"/>
<path d="M569.25 550.50V557.50" stroke="#808080" stroke-width="1.1" fill="none"/>
<path d="M566.95 550.50H571.55M566.95 557.50H571.55" stroke="#6e6e6e" stroke-width="1" fill="none"/>
<path d="M645.35 550.50V557.50" stroke="#808080" stroke-width="1.1" fill="none"/>
<path d="M643.05 550.50H647.65M643.05 557.50H647.65" stroke="#6e6e6e" stroke-width="1" fill="none"/>
<polyline points="417.05,577.36 493.15,535.40 569.25,519.63 645.35,540.06" fill="none" stroke="#C00000" stroke-width="2.2" stroke-linecap="round" stroke-dasharray="0.01 4.59"/>
<polyline points="417.05,591.03 493.15,572.31 569.25,554.13 645.35,554.13" fill="none" stroke="#2F5597" stroke-width="2.6" stroke-dasharray="8.9 7.3"/>
<text x="492.90" y="521.50" font-size="10.5" text-anchor="middle" fill="#111" stroke="#111" stroke-width="0.25" >a</text>
<text x="490.60" y="564.00" font-size="10.5" text-anchor="middle" fill="#111" stroke="#111" stroke-width="0.25" >b</text>
<text x="569.40" y="503.50" font-size="10.5" text-anchor="middle" fill="#111" stroke="#111" stroke-width="0.25" >a</text>
<text x="567.80" y="542.00" font-size="10.5" text-anchor="middle" fill="#111" stroke="#111" stroke-width="0.25" >b</text>
<line x1="435.1" y1="632.9" x2="462.4" y2="632.9" stroke="#C00000" stroke-width="2.2" stroke-dasharray="2.3 2.7"/>
<text x="465.20" y="636.02" font-size="8.75" text-anchor="start" fill="#262626" stroke="#262626" stroke-width="0.22" >Reduced CRET</text>
<line x1="539" y1="632.9" x2="565.8" y2="632.9" stroke="#2F5597" stroke-width="2.4" stroke-dasharray="9.5 7.9"/>
<text x="569.10" y="636.02" font-size="8.75" text-anchor="start" fill="#262626" stroke="#262626" stroke-width="0.22" >Normal CRET</text>
<line x1="601" y1="659.3" x2="609.6" y2="640.2" stroke="#000" stroke-width="2"/>
<line x1="609.3" y1="659.3" x2="618" y2="640.2" stroke="#000" stroke-width="2"/>
</svg>
</body></html>
